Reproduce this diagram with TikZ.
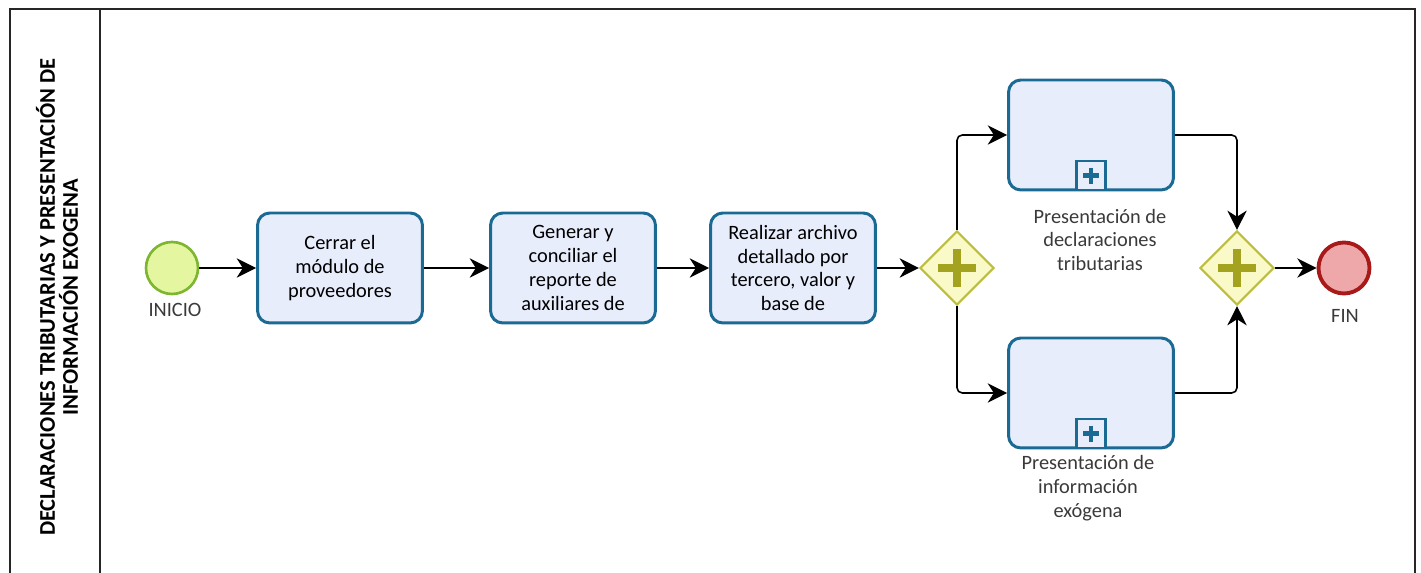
\documentclass[tikz,border=0pt]{standalone}
\usepackage{fontspec}
\setmainfont{Carlito}
\usetikzlibrary{arrows.meta}
\usetikzlibrary{shapes.geometric, calc, math}
\definecolor{tblue}{RGB}{27,106,148}
\definecolor{tfill}{RGB}{232,237,252}
\definecolor{sline}{RGB}{125,182,49}
\definecolor{sfill}{RGB}{229,246,160}
\definecolor{eline}{RGB}{168,26,26}
\definecolor{efill}{RGB}{238,168,170}
\definecolor{gline}{RGB}{189,189,64}
\definecolor{gfill}{RGB}{250,250,200}
\definecolor{gplus}{RGB}{163,163,31}
\definecolor{ltext}{RGB}{58,58,58}
\tikzset{
  frame/.style={line width=0.9pt, draw=black!85},
  lanetitle/.style={rotate=90, align=center, font=\fontsize{12.8}{13}\selectfont\bfseries},
  task/.style={draw=tblue, fill=tfill, line width=1.7pt, rounded corners=7pt,
    minimum width=3.3cm, minimum height=2.2cm, align=center, inner sep=2pt,
    font=\fontsize{11.6}{13.6}\selectfont},
  subproc/.style={task},
  marker/.style={draw=tblue, fill=tfill, line width=1.5pt, minimum size=0.58cm, inner sep=0pt},
  mkplus/.style={draw=tblue, line width=2.8pt},
  gateway/.style={diamond, aspect=1, draw=gline, fill=gfill, line width=1.2pt,
    minimum width=1.48cm, minimum height=1.48cm, inner sep=0pt},
  gwplus/.style={draw=gplus, line width=4.5pt},
  startev/.style={circle, draw=sline, fill=sfill, line width=1.5pt, minimum size=1.04cm, inner sep=0pt},
  endev/.style={circle, draw=eline, fill=efill, line width=2.2pt, minimum size=1.02cm, inner sep=0pt},
  evlabel/.style={text=ltext, align=center, font=\fontsize{11.6}{13.6}\selectfont},
  flow/.style={line width=0.9pt, rounded corners=3pt, -{Stealth[length=11pt, width=11pt, inset=3.5pt]}}
}

\begin{document}
\begin{tikzpicture}[x=0.02cm, y=-0.02cm]

\tikzmath{
\garm = 19; %arm of gateway plus
\marm = 8; %arm of marker plus
}

\useasboundingbox (0,0) rectangle (1421,573);

%pool and lane:
\draw[frame] (10,573) -- (10,9) -- (1415,9) -- (1415,573);
\draw[frame] (100,9) -- (100,573);
\node[lanetitle] (titulo) at (57,297) {DECLARACIONES TRIBUTARIAS Y PRESENTACIÓN DE\\INFORMACIÓN EXOGENA};

%events:
\node[startev] (ini) at (172,268) {};
\node[evlabel] (inilbl) at (175,310) {INICIO};
\node[endev] (fin) at (1344,268) {};
\node[evlabel] (finlbl) at (1345,316) {FIN};

%tasks:
\node[task] (cerrar) at (340,268) {Cerrar el\\módulo de\\proveedores};
\node[task] (generar) at (573,268) {Generar y\\conciliar el\\reporte de\\auxiliares de};
\node[task] (realizar) at (793,268) {Realizar archivo\\detallado por\\tercero, valor y\\base de};

%gateways:
\node[gateway] (gwsplit) at (957,268) {};
\node[gateway] (gwjoin) at (1237,268) {};
\foreach \g in {gwsplit,gwjoin}
  \draw[gwplus] ($(\g)+(-\garm,0)$) -- ($(\g)+(\garm,0)$) ($(\g)+(0,-\garm)$) -- ($(\g)+(0,\garm)$);

%subprocesses:
\node[subproc] (decl) at (1091,135) {};
\node[subproc] (exog) at (1091,393) {};
\foreach \s in {decl,exog} {
  \node[marker, anchor=south] (m\s) at (\s.south) {};
  \draw[mkplus] ($(m\s)+(-\marm,0)$) -- ($(m\s)+(\marm,0)$) ($(m\s)+(0,-\marm)$) -- ($(m\s)+(0,\marm)$);
}
\node[evlabel] (decllbl) at (1100,240) {Presentación de\\declaraciones\\tributarias};
\node[evlabel] (exoglbl) at (1088,488) {Presentación de\\información\\exógena};

%flows:
\draw[flow] (ini) -- (cerrar);
\draw[flow] (cerrar) -- (generar);
\draw[flow] (generar) -- (realizar);
\draw[flow] (realizar) -- (gwsplit);
\draw[flow] (gwsplit.north) |- (decl.west);
\draw[flow] (gwsplit.south) |- (exog.west);
\draw[flow] (decl.east) -| (gwjoin.north);
\draw[flow] (exog.east) -| (gwjoin.south);
\draw[flow] (gwjoin) -- (fin);

\end{tikzpicture}
\end{document}
